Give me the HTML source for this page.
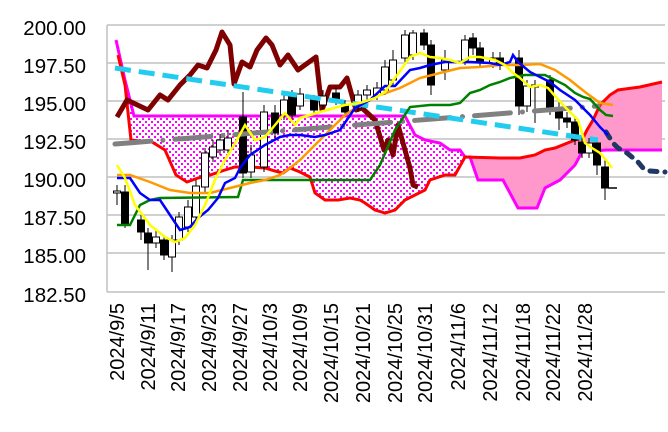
<!DOCTYPE html>
<html><head><meta charset="utf-8"><style>
body{margin:0;background:#fff;}
svg{display:block;font-family:"Liberation Sans",sans-serif;}
</style></head><body>
<svg width="668" height="432" viewBox="0 0 668 432">
<defs>
<pattern id="dots" width="6" height="6" patternUnits="userSpaceOnUse">
<rect width="6" height="6" fill="#fff"/><rect x="1" y="1" width="2" height="2" fill="#ff00ff"/><rect x="4" y="4" width="2" height="2" fill="#ff00ff"/>
</pattern>
<clipPath id="cl"><rect x="107" y="0" width="358" height="300"/></clipPath>
<clipPath id="cr"><rect x="465" y="0" width="210" height="300"/></clipPath>
</defs>
<g stroke="#c0c0c0" stroke-width="1.5">
<line x1="107" y1="25" x2="665" y2="25"/><line x1="107" y1="63" x2="665" y2="63"/><line x1="107" y1="101" x2="665" y2="101"/><line x1="107" y1="139" x2="665" y2="139"/><line x1="107" y1="177" x2="665" y2="177"/><line x1="107" y1="215" x2="665" y2="215"/><line x1="107" y1="253" x2="665" y2="253"/><line x1="107" y1="292" x2="665" y2="292"/>
<line x1="107" y1="25" x2="107" y2="292"/>
</g>
<g font-size="20.5" fill="#000" text-anchor="end">
<text x="86" y="35">200.00</text><text x="86" y="73">197.50</text><text x="86" y="111">195.00</text><text x="86" y="149">192.50</text><text x="86" y="187">190.00</text><text x="86" y="225">187.50</text><text x="86" y="263">185.00</text><text x="86" y="302">182.50</text>
</g>
<g font-size="20" fill="#000" text-anchor="end">
<text transform="translate(124,303) rotate(-90)">2024/9/5</text>
<text transform="translate(155,303) rotate(-90)">2024/9/11</text>
<text transform="translate(185,303) rotate(-90)">2024/9/17</text>
<text transform="translate(216,303) rotate(-90)">2024/9/23</text>
<text transform="translate(247,303) rotate(-90)">2024/9/27</text>
<text transform="translate(277,303) rotate(-90)">2024/10/3</text>
<text transform="translate(307,303) rotate(-90)">2024/10/9</text>
<text transform="translate(338,303) rotate(-90)">2024/10/15</text>
<text transform="translate(370,303) rotate(-90)">2024/10/21</text>
<text transform="translate(402,303) rotate(-90)">2024/10/25</text>
<text transform="translate(432,303) rotate(-90)">2024/10/31</text>
<text transform="translate(465,303) rotate(-90)">2024/11/6</text>
<text transform="translate(497,303) rotate(-90)">2024/11/12</text>
<text transform="translate(530,303) rotate(-90)">2024/11/18</text>
<text transform="translate(560,303) rotate(-90)">2024/11/22</text>
<text transform="translate(592,303) rotate(-90)">2024/11/28</text>
</g>
<polygon clip-path="url(#cl)" fill="url(#dots)" points="116,40 125,80 134,116 405,116 415,135 425,140 440,143 450,150 460,150 465,157 465,157 455,175 445,175 430,180 425,190 415,195 405,200 395,210 385,213 375,210 365,203 360,200 350,198 338,200 325,200 315,193 310,177 300,172 290,168 283,173 275,171 265,168 250,167 235,167 225,170 210,175 198,178 187,182 176,175 165,150 152,142 140,141 131,140 125,85 118,40"/>
<polygon clip-path="url(#cr)" fill="#ff99cc" points="465,157 470,157 478,180 503,180 518,208 537,208 545,188 560,180 575,165 582,152 606,150 662,150 662,82 640,87 618,90 610,95 600,105 593,120 587,130 583,138 575,140 570,142 555,148 545,150 535,155 520,158 465,157"/>
<polyline fill="none" stroke="#ff00ff" stroke-width="3" points="116,40 125,80 134,116 405,116 415,135 425,140 440,143 450,150 460,150 465,157 470,157 478,180 503,180 518,208 537,208 545,188 560,180 575,165 582,152 606,150 662,150"/>
<polyline fill="none" stroke="#ff0000" stroke-width="3" points="118,55 125,85 131,140 140,141 152,142 165,150 176,175 187,182 198,178 210,175 225,170 235,167 250,167 265,168 275,171 283,173 290,168 300,172 310,177 315,193 325,200 338,200 350,198 360,200 365,203 375,210 385,213 395,210 405,200 415,195 425,190 430,180 445,175 455,175 465,157 500,158 520,158 535,155 545,150 555,148 570,142 575,140 583,138 587,130 593,120 600,105 610,95 618,90 640,87 662,82"/>
<polyline fill="none" stroke="#7f0000" stroke-width="5" stroke-linejoin="round" points="117,117 127,100 148,110 160,95 168,100 180,85 190,75 198,65 207,68 216,50 222,32 230,45 234,84 242,62 250,67 257,50 266,38 272,45 280,65 288,55 298,70 316,57 322,110 330,87 340,87 347,78 356,110 362,108 375,120 384,150 388,140 393,155 398,125 410,168 413,185 418,187"/>
<g stroke="#000" stroke-width="1">
<line x1="117" y1="185" x2="117" y2="205"/><rect x="113.5" y="191" width="7" height="2" fill="#fff"/>
<line x1="125" y1="185" x2="125" y2="228"/><rect x="121.5" y="192" width="7" height="33" fill="#000"/>
<line x1="141" y1="215" x2="141" y2="240"/><rect x="137.5" y="220" width="7" height="12" fill="#000"/>
<line x1="148" y1="228" x2="148" y2="270"/><rect x="144.5" y="233" width="7" height="10" fill="#000"/>
<line x1="156" y1="230" x2="156" y2="248"/><rect x="152.5" y="237" width="7" height="6" fill="#fff"/>
<line x1="164" y1="235" x2="164" y2="260"/><rect x="160.5" y="240" width="7" height="15" fill="#000"/>
<line x1="172" y1="235" x2="172" y2="272"/><rect x="168.5" y="240" width="7" height="17" fill="#fff"/>
<line x1="179" y1="212" x2="179" y2="245"/><rect x="175.5" y="217" width="7" height="23" fill="#fff"/>
<line x1="188" y1="200" x2="188" y2="232"/><rect x="184.5" y="207" width="7" height="20" fill="#fff"/>
<line x1="196" y1="180" x2="196" y2="222"/><rect x="192.5" y="186" width="7" height="31" fill="#fff"/>
<line x1="205" y1="148" x2="205" y2="192"/><rect x="201.5" y="153" width="7" height="34" fill="#fff"/>
<line x1="213" y1="140" x2="213" y2="162"/><rect x="209.5" y="147" width="7" height="10" fill="#fff"/>
<line x1="220" y1="134" x2="220" y2="155"/><rect x="216.5" y="140" width="7" height="10" fill="#fff"/>
<line x1="228" y1="130" x2="228" y2="155"/><rect x="224.5" y="138" width="7" height="12" fill="#fff"/>
<line x1="243" y1="92" x2="243" y2="178"/><rect x="239.5" y="117" width="7" height="56" fill="#000"/>
<line x1="251" y1="145" x2="251" y2="178"/><rect x="247.5" y="155" width="7" height="17" fill="#fff"/>
<line x1="264" y1="105" x2="264" y2="172"/><rect x="260.5" y="112" width="7" height="55" fill="#fff"/>
<line x1="275" y1="105" x2="275" y2="140"/><rect x="271.5" y="113" width="7" height="20" fill="#000"/>
<line x1="284" y1="95" x2="284" y2="120"/><rect x="280.5" y="100" width="7" height="15" fill="#fff"/>
<line x1="292" y1="90" x2="292" y2="120"/><rect x="288.5" y="95" width="7" height="20" fill="#000"/>
<line x1="300" y1="88" x2="300" y2="110"/><rect x="296.5" y="94" width="7" height="12" fill="#fff"/>
<line x1="314" y1="95" x2="314" y2="115"/><rect x="310.5" y="100" width="7" height="10" fill="#000"/>
<line x1="323" y1="90" x2="323" y2="110"/><rect x="319.5" y="96" width="7" height="9" fill="#fff"/>
<line x1="336" y1="88" x2="336" y2="105"/><rect x="332.5" y="93" width="7" height="7" fill="#000"/>
<line x1="345" y1="100" x2="345" y2="116"/><rect x="341.5" y="105" width="7" height="7" fill="#000"/>
<line x1="358" y1="90" x2="358" y2="112"/><rect x="354.5" y="95" width="7" height="13" fill="#fff"/>
<line x1="367" y1="85" x2="367" y2="100"/><rect x="363.5" y="90" width="7" height="5" fill="#fff"/>
<line x1="377" y1="82" x2="377" y2="100"/><rect x="373.5" y="88" width="7" height="7" fill="#fff"/>
<line x1="385" y1="60" x2="385" y2="95"/><rect x="381.5" y="67" width="7" height="23" fill="#fff"/>
<line x1="393" y1="50" x2="393" y2="85"/><rect x="389.5" y="60" width="7" height="20" fill="#fff"/>
<line x1="405" y1="30" x2="405" y2="62"/><rect x="401.5" y="35" width="7" height="23" fill="#fff"/>
<line x1="413" y1="30" x2="413" y2="60"/><rect x="409.5" y="33" width="7" height="22" fill="#fff"/>
<line x1="424" y1="29" x2="424" y2="50"/><rect x="420.5" y="33" width="7" height="12" fill="#000"/>
<line x1="431" y1="40" x2="431" y2="95"/><rect x="427.5" y="45" width="7" height="40" fill="#000"/>
<line x1="445" y1="50" x2="445" y2="80"/><rect x="441.5" y="60" width="7" height="10" fill="#fff"/>
<line x1="465" y1="35" x2="465" y2="65"/><rect x="461.5" y="40" width="7" height="20" fill="#fff"/>
<line x1="473" y1="33" x2="473" y2="55"/><rect x="469.5" y="38" width="7" height="10" fill="#000"/>
<line x1="480" y1="42" x2="480" y2="68"/><rect x="476.5" y="48" width="7" height="15" fill="#000"/>
<line x1="493" y1="52" x2="493" y2="68"/><rect x="489.5" y="58" width="7" height="5" fill="#fff"/>
<line x1="500" y1="52" x2="500" y2="70"/><rect x="496.5" y="58" width="7" height="7" fill="#000"/>
<line x1="519" y1="50" x2="519" y2="115"/><rect x="515.5" y="58" width="7" height="48" fill="#000"/>
<line x1="527" y1="80" x2="527" y2="112"/><rect x="523.5" y="86" width="7" height="20" fill="#fff"/>
<line x1="535" y1="80" x2="535" y2="123"/><rect x="531.5" y="85" width="7" height="2" fill="#fff"/>
<line x1="550" y1="75" x2="550" y2="115"/><rect x="546.5" y="80" width="7" height="30" fill="#000"/>
<line x1="559" y1="100" x2="559" y2="130"/><rect x="555.5" y="108" width="7" height="10" fill="#000"/>
<line x1="567" y1="112" x2="567" y2="128"/><rect x="563.5" y="118" width="7" height="4" fill="#000"/>
<line x1="575" y1="118" x2="575" y2="145"/><rect x="571.5" y="122" width="7" height="18" fill="#000"/>
<line x1="582" y1="137" x2="582" y2="158"/><rect x="578.5" y="142" width="7" height="11" fill="#000"/>
<line x1="589" y1="138" x2="589" y2="158"/><rect x="585.5" y="143" width="7" height="10" fill="#fff"/>
<line x1="597" y1="138" x2="597" y2="175"/><rect x="593.5" y="143" width="7" height="22" fill="#000"/>
<line x1="605" y1="160" x2="605" y2="200"/><rect x="601.5" y="167" width="7" height="21" fill="#000"/>
<line x1="608" y1="188" x2="617" y2="188" stroke-width="1.5"/>
</g>
<line x1="115" y1="144" x2="598" y2="106" stroke="#808080" stroke-width="5" stroke-linecap="round" stroke-dasharray="36 12 0.1 12"/>
<line x1="115" y1="68" x2="598" y2="140" stroke="#22ccee" stroke-width="5" stroke-dasharray="16 8"/>
<polyline fill="none" stroke="#1f3864" stroke-width="5" stroke-linecap="round" stroke-dasharray="7 8" points="606,132 613,143 618,148 627,153 638,162 643,168 650,171 665,172"/>
<polyline fill="none" stroke="#008000" stroke-width="2.5" points="117,225 130,225 140,205 150,200 160,198 238,197 243,180 370,180 380,165 395,130 410,107 430,105 450,105 460,103 470,93 480,90 490,85 500,82 510,78 525,75 545,75 555,80 565,85 575,93 583,97 590,99 600,110 606,115 613,116"/>
<polyline fill="none" stroke="#ff9900" stroke-width="2.5" points="117,175 130,175 150,182 170,190 190,193 210,193 230,188 250,183 265,180 280,175 290,168 300,160 310,150 330,130 345,115 360,105 380,95 400,88 420,78 440,73 460,68 480,67 500,65 520,65 540,64 555,70 570,80 585,92 600,103 613,105"/>
<polyline fill="none" stroke="#0000ff" stroke-width="2.5" points="117,178 130,178 140,193 150,200 160,200 168,212 180,230 190,227 198,218 208,210 218,198 225,183 235,178 240,168 250,155 265,145 280,137 290,135 300,135 315,137 325,135 340,130 355,108 370,100 385,86 395,86 410,70 420,68 430,65 445,62 470,62 490,63 500,65 510,62 513,55 518,62 530,72 550,82 560,90 575,100 590,115 600,127 608,135"/>
<polyline fill="none" stroke="#ffff00" stroke-width="2.5" points="117,165 125,178 135,205 150,225 165,237 175,242 185,238 195,225 205,205 215,180 225,160 237,140 245,125 255,140 265,137 275,125 285,113 295,125 300,118 320,112 345,105 360,103 375,98 385,92 395,78 410,57 420,53 430,57 440,58 450,60 460,63 470,57 480,57 495,60 505,65 512,72 520,78 530,87 540,85 548,88 555,96 563,105 570,112 578,120 585,143 592,148 600,153 606,160 612,168"/>
</svg>
</body></html>
